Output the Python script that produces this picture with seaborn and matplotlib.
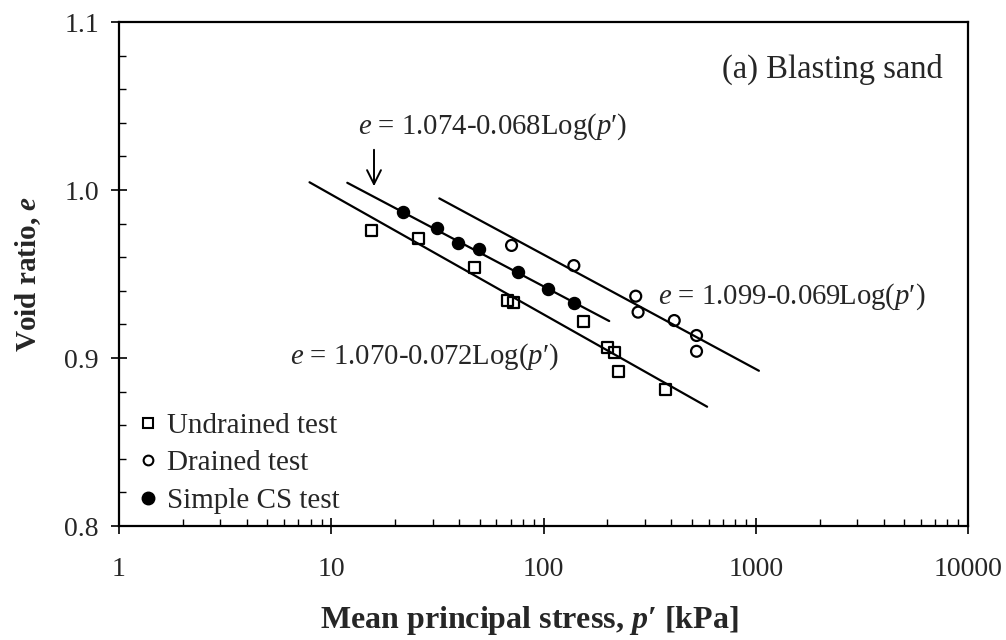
import numpy as np
import pandas as pd
import matplotlib
matplotlib.use("Agg")
import matplotlib.pyplot as plt
import seaborn as sns
from matplotlib.lines import Line2D
from matplotlib.ticker import FixedLocator, LogLocator, NullFormatter, MultipleLocator

# ---------------- data ----------------
undrained_p = [15.5, 25.7, 47.2, 68, 72, 154, 199.5, 217, 225, 376]
undrained_e = [0.976, 0.971, 0.954, 0.934, 0.933, 0.922, 0.906, 0.903, 0.892, 0.8815]
drained_p = [70.7, 139, 272, 279, 413, 526, 526]
drained_e = [0.967, 0.955, 0.9368, 0.9273, 0.9223, 0.9134, 0.904]
simple_p = [21.7, 31.4, 39.7, 49.6, 76, 104.5, 139]
simple_e = [0.987, 0.9775, 0.9686, 0.9646, 0.9513, 0.9413, 0.9328]

fit_names = ["Simple CS", "Undrained", "Drained"]
fit_p_start = [11.9, 7.9, 32.3]
fit_p_end = [204, 590, 1035]
fit_e_start = [1.0043, 1.0046, 0.995]
fit_e_end = [0.922, 0.871, 0.8924]

eq_texts = ["$e$ = 1.074-0.068Log($p$′)",
            "$e$ = 1.099-0.069Log($p$′)",
            "$e$ = 1.070-0.072Log($p$′)"]

x_ticks = [1, 10, 100, 1000, 10000]
x_ticklabels = ["1", "10", "100", "1000", "10000"]
y_ticks = [0.8, 0.9, 1.0, 1.1]
y_ticklabels = ["0.8", "0.9", "1.0", "1.1"]

# ---------------- style ----------------
sns.set_style("ticks")
plt.rcParams["font.family"] = ["Liberation Serif", "DejaVu Serif"]
plt.rcParams["mathtext.fontset"] = "custom"
plt.rcParams["mathtext.rm"] = "Liberation Serif"
plt.rcParams["mathtext.it"] = "Liberation Serif:italic"
plt.rcParams["mathtext.bf"] = "Liberation Serif:bold"
plt.rcParams["mathtext.bfit"] = "Liberation Serif:bold:italic"

fig = plt.figure(figsize=(10.06, 6.4), dpi=100)
ax = fig.add_axes([119 / 1006, 1 - 526 / 640, (968 - 119) / 1006, (526 - 22) / 640])

# fit lines
lines_df = pd.DataFrame({
    "name": np.repeat(fit_names, 2),
    "p": np.ravel(np.column_stack([fit_p_start, fit_p_end])),
    "e": np.ravel(np.column_stack([fit_e_start, fit_e_end])),
})
for nm in fit_names:
    sub = lines_df[lines_df["name"] == nm]
    sns.lineplot(data=sub, x="p", y="e", ax=ax, color="black", lw=1.6,
                 estimator=None, sort=False, legend=False, zorder=2)

# points
sns.scatterplot(x=undrained_p, y=undrained_e, ax=ax, marker="s", s=62,
                facecolor="none", edgecolor="black", linewidth=1.6, zorder=3)
sns.scatterplot(x=drained_p, y=drained_e, ax=ax, marker="o", s=62,
                facecolor="none", edgecolor="black", linewidth=1.6, zorder=3)
sns.scatterplot(x=simple_p, y=simple_e, ax=ax, marker="o", s=75,
                facecolor="black", edgecolor="black", linewidth=1.0, zorder=3)

ax.set_xscale("log")
ax.set_xlim(1, 10000)
ax.set_ylim(0.8, 1.1)
ax.xaxis.set_major_locator(FixedLocator(x_ticks))
ax.set_xticklabels(x_ticklabels)
ax.xaxis.set_minor_locator(LogLocator(base=10, subs=np.arange(2, 10)))
ax.xaxis.set_minor_formatter(NullFormatter())
ax.set_yticks(y_ticks)
ax.set_yticklabels(y_ticklabels)
ax.yaxis.set_minor_locator(MultipleLocator(0.02))

for sp in ax.spines.values():
    sp.set_linewidth(1.6)
    sp.set_color("black")
ax.tick_params(which="major", direction="inout", length=11, width=1.2,
               labelsize=20, color="black")
ax.tick_params(axis="x", which="major", pad=17)
ax.tick_params(axis="y", which="major", pad=9)
ax.tick_params(which="minor", direction="in", length=5, width=1.0, color="black")

ax.set_xlabel("Mean principal stress, $\\mathbfit{p}$′ [kPa]", fontsize=23,
              fontweight="bold")
ax.xaxis.set_label_coords(0.483, -0.155)
ax.set_ylabel("Void ratio, $\\mathbfit{e}$", fontsize=21, fontweight="bold")
ax.yaxis.set_label_coords(-0.09, 0.5)

# annotations
ax.text(0.97, 0.905, "(a) Blasting sand", transform=ax.transAxes, fontsize=23.5,
        ha="right", va="center")

def fig2ax(px, py):
    return ((px - 119) / (968 - 119), (526 - py) / (526 - 22))

for txt, (px, py) in zip(eq_texts, [(358, 127), (658, 297), (290, 357)]):
    xa, ya = fig2ax(px, py)
    ax.text(xa, ya, txt, transform=ax.transAxes, fontsize=20.7, ha="left", va="center")

xa0, ya0 = fig2ax(374, 147)
xa1, ya1 = fig2ax(374, 189)
ax.annotate("", xy=(xa1, ya1), xytext=(xa0, ya0), xycoords="axes fraction",
            textcoords="axes fraction",
            arrowprops=dict(arrowstyle="->", color="black", lw=1.4,
                            mutation_scale=25))

# legend
handles = [
    Line2D([], [], marker="s", ls="none", markersize=7, markerfacecolor="none",
           markeredgecolor="black", markeredgewidth=1.5),
    Line2D([], [], marker="o", ls="none", markersize=7, markerfacecolor="none",
           markeredgecolor="black", markeredgewidth=1.5),
    Line2D([], [], marker="o", ls="none", markersize=9, markerfacecolor="black",
           markeredgecolor="black"),
]
ax.legend(handles, ["Undrained test", "Drained test", "Simple CS test"],
          loc="lower left", bbox_to_anchor=(-0.004, -0.022), frameon=False,
          fontsize=21, handlelength=0.6, handletextpad=0.35, labelspacing=0.38,
          borderaxespad=0.4)

fig.savefig("out.png", dpi=100)
